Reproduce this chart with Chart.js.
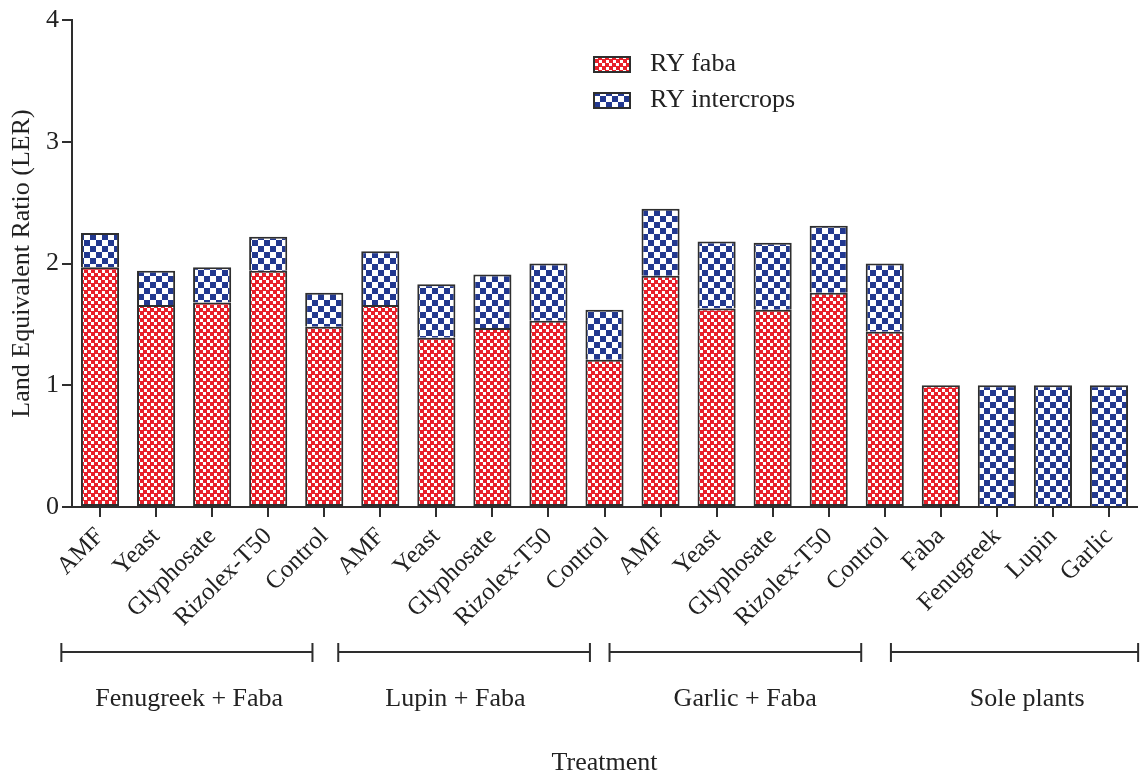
<!DOCTYPE html>
<html>
<head>
<meta charset="utf-8">
<title>Land Equivalent Ratio</title>
<script src="https://cdn.jsdelivr.net/npm/chart.js@4.4.1/dist/chart.umd.min.js"></script>
<style>
  html, body { margin: 0; padding: 0; background: #ffffff; }
  #wrap { width: 1140px; height: 776px; }
</style>
</head>
<body>
<div id="wrap"><canvas id="c" width="1140" height="776"></canvas></div>
<script>
// ---- data ----
const treatments = [
  'AMF', 'Yeast', 'Glyphosate', 'Rizolex-T50', 'Control',
  'AMF', 'Yeast', 'Glyphosate', 'Rizolex-T50', 'Control',
  'AMF', 'Yeast', 'Glyphosate', 'Rizolex-T50', 'Control',
  'Faba', 'Fenugreek', 'Lupin', 'Garlic'
];
const ryFaba = [
  1.97, 1.66, 1.68, 1.94, 1.48,
  1.66, 1.39, 1.47, 1.53, 1.21,
  1.90, 1.63, 1.62, 1.76, 1.44,
  1.00, null, null, null
];
const ryIntercrops = [
  0.28, 0.28, 0.29, 0.28, 0.28,
  0.44, 0.44, 0.44, 0.47, 0.41,
  0.55, 0.55, 0.55, 0.55, 0.56,
  null, 1.00, 1.00, 1.00
];
const groupNames = ['Fenugreek + Faba', 'Lupin + Faba', 'Garlic + Faba', 'Sole plants'];
const yTickValues = [0, 1, 2, 3, 4];

// ---- styling helpers ----
const FONT = '"Liberation Serif", "Times New Roman", "DejaVu Serif", serif';
const INK = '#2e2e2e';
const RED = '#e8202a';
const BLUE = '#22388f';

// fine red checker with white holes
function redPattern() {
  const t = document.createElement('canvas');
  t.width = 7; t.height = 7;
  const g = t.getContext('2d');
  g.fillStyle = RED; g.fillRect(0, 0, 7, 7);
  g.fillStyle = '#ffffff';
  g.fillRect(0, 0, 3, 3);
  g.fillRect(4, 4, 3, 3);
  return g.createPattern(t, 'repeat');
}
// coarse blue / white checkerboard
function bluePattern() {
  const c = 6;
  const t = document.createElement('canvas');
  t.width = 2 * c; t.height = 2 * c;
  const g = t.getContext('2d');
  g.fillStyle = '#ffffff'; g.fillRect(0, 0, 2 * c, 2 * c);
  g.fillStyle = BLUE;
  g.fillRect(0, 0, c, c);
  g.fillRect(c, c, c, c);
  return g.createPattern(t, 'repeat');
}

// legend drawn inside the plot area
const insideLegend = {
  id: 'insideLegend',
  afterDraw(chart) {
    const ctx = chart.ctx;
    ctx.save();
    chart.data.datasets.forEach((ds, i) => {
      const y = 57 + i * 36;
      ctx.fillStyle = ds.backgroundColor;
      ctx.fillRect(594, y, 36, 15);
      ctx.strokeStyle = INK;
      ctx.lineWidth = 2;
      ctx.strokeRect(594, y, 36, 15);
      ctx.fillStyle = '#222';
      ctx.font = '26px ' + FONT;
      ctx.textBaseline = 'middle';
      ctx.textAlign = 'left';
      ctx.fillText(ds.label, 650, y + 7);
    });
    ctx.restore();
  }
};

// group brackets under the rotated category labels
const groupBrackets = {
  id: 'groupBrackets',
  afterDraw(chart) {
    const x = chart.scales.x;
    const step = x.getPixelForValue(1) - x.getPixelForValue(0);
    const at = f => x.getPixelForValue(0) + f * step;
    const edges = [[-0.69, 3.79], [4.25, 8.74], [9.09, 13.58], [14.11, 18.52]];
    const centres = [1.59, 6.34, 11.51, 16.54];
    const ctx = chart.ctx;
    ctx.save();
    ctx.strokeStyle = INK;
    ctx.lineWidth = 2;
    edges.forEach(([a, b]) => {
      const x0 = at(a), x1 = at(b);
      ctx.beginPath();
      ctx.moveTo(x0, 652); ctx.lineTo(x1, 652);
      ctx.moveTo(x0, 643); ctx.lineTo(x0, 662);
      ctx.moveTo(x1, 643); ctx.lineTo(x1, 662);
      ctx.stroke();
    });
    ctx.fillStyle = '#222';
    ctx.font = '26px ' + FONT;
    ctx.textAlign = 'center';
    ctx.textBaseline = 'alphabetic';
    groupNames.forEach((name, i) => ctx.fillText(name, at(centres[i]), 706));
    ctx.restore();
  }
};

new Chart(document.getElementById('c'), {
  type: 'bar',
  data: {
    labels: treatments,
    datasets: [
      {
        label: 'RY faba',
        data: ryFaba,
        backgroundColor: redPattern(),
        borderColor: INK,
        borderWidth: 2,
        borderSkipped: false
      },
      {
        label: 'RY intercrops',
        data: ryIntercrops,
        backgroundColor: bluePattern(),
        borderColor: INK,
        borderWidth: 2,
        borderSkipped: 'start'
      }
    ]
  },
  options: {
    responsive: false,
    animation: false,
    layout: { padding: { top: 20, right: 3, left: 0, bottom: 0 } },
    datasets: { bar: { categoryPercentage: 1.0, barPercentage: 0.68 } },
    plugins: {
      legend: { display: false },
      tooltip: { enabled: false }
    },
    scales: {
      x: {
        stacked: true,
        offset: true,
        grid: { display: true, offset: false, drawOnChartArea: false, drawTicks: true, tickLength: 10, color: INK, lineWidth: 2 },
        border: { display: true, color: INK, width: 2 },
        ticks: {
          color: '#222',
          font: { family: FONT, size: 25 },
          minRotation: 45,
          maxRotation: 45,
          autoSkip: false,
          padding: 5
        },
        title: {
          display: true,
          text: 'Treatment',
          color: '#222',
          font: { family: FONT, size: 26, lineHeight: 1 },
          padding: { top: 0, bottom: 0 }
        },
        afterFit(scale) { scale.height = 776 - 507; }
      },
      y: {
        stacked: true,
        min: 0,
        max: 4,
        afterBuildTicks(scale) { scale.ticks = yTickValues.map(v => ({ value: v })); },
        grid: { display: true, drawOnChartArea: false, drawTicks: true, tickLength: 10, color: INK, lineWidth: 2 },
        border: { display: true, color: INK, width: 2 },
        ticks: {
          color: '#222',
          font: { family: FONT, size: 26 },
          padding: 3
        },
        title: {
          display: true,
          text: 'Land Equivalent Ratio (LER)',
          color: '#222',
          font: { family: FONT, size: 26, lineHeight: 1 },
          padding: { top: 9, bottom: 0 }
        },
        afterFit(scale) { scale.width = 72; }
      }
    }
  },
  plugins: [insideLegend, groupBrackets]
});
</script>
</body>
</html>
